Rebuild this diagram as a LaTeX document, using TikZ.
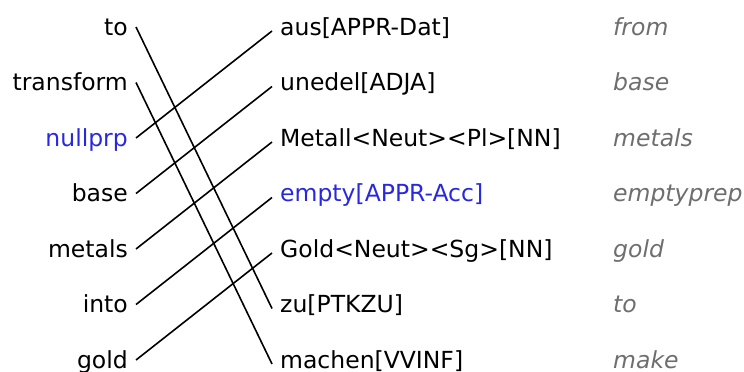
\documentclass[tikz,border=0pt]{standalone}
\usepackage{fontspec}
\setmainfont{DejaVu Sans}
\definecolor{nullblue}{RGB}{40,40,225}
\definecolor{glossgray}{RGB}{110,110,110}
\begin{document}
\begin{tikzpicture}[x=1pt,y=-1pt,
  every node/.style={inner sep=0pt,font=\fontsize{23.5}{28}\selectfont},
  src/.style={anchor=base east},
  tgt/.style={anchor=base west},
  gloss/.style={anchor=base west,text=glossgray,font=\fontsize{23.5}{28}\selectfont\itshape},
  nullw/.style={text=nullblue},
  link/.style={line width=1.6pt,black}]
\useasboundingbox (0,0) rectangle (744,372);
% left column
\node[src] (L0) at (128,35) {to};
\node[src] (L1) at (128,90.5) {transform};
\node[src,nullw] (L2) at (128,146) {nullprp};
\node[src] (L3) at (128,201.5) {base};
\node[src] (L4) at (128,257) {metals};
\node[src] (L5) at (128,312.5) {into};
\node[src] (L6) at (128,368) {gold};
% middle column
\node[tgt] (M0) at (280,35) {aus[APPR-Dat]};
\node[tgt] (M1) at (280,90.5) {unedel[ADJA]};
\node[tgt] (M2) at (280,146) {Metall<Neut><Pl>[NN]};
\node[tgt,nullw] (M3) at (280,201.5) {empty[APPR-Acc]};
\node[tgt] (M4) at (280,257) {Gold<Neut><Sg>[NN]};
\node[tgt] (M5) at (280,312.5) {zu[PTKZU]};
\node[tgt] (M6) at (280,368) {machen[VVINF]};
% right column
\node[gloss] (R0) at (613,35) {from};
\node[gloss] (R1) at (613,90.5) {base};
\node[gloss] (R2) at (613,146) {metals};
\node[gloss] (R3) at (613,201.5) {emptyprep};
\node[gloss] (R4) at (613,257) {gold};
\node[gloss] (R5) at (613,312.5) {to};
\node[gloss] (R6) at (613,368) {make};
% links
\foreach \a/\b in {L0/M5,L1/M6,L2/M0,L3/M1,L4/M2,L5/M3,L6/M4}
  \draw[link] ([shift={(8pt,8pt)}]\a.base east) -- ([shift={(-8pt,4pt)}]\b.base west);
\end{tikzpicture}
\end{document}
